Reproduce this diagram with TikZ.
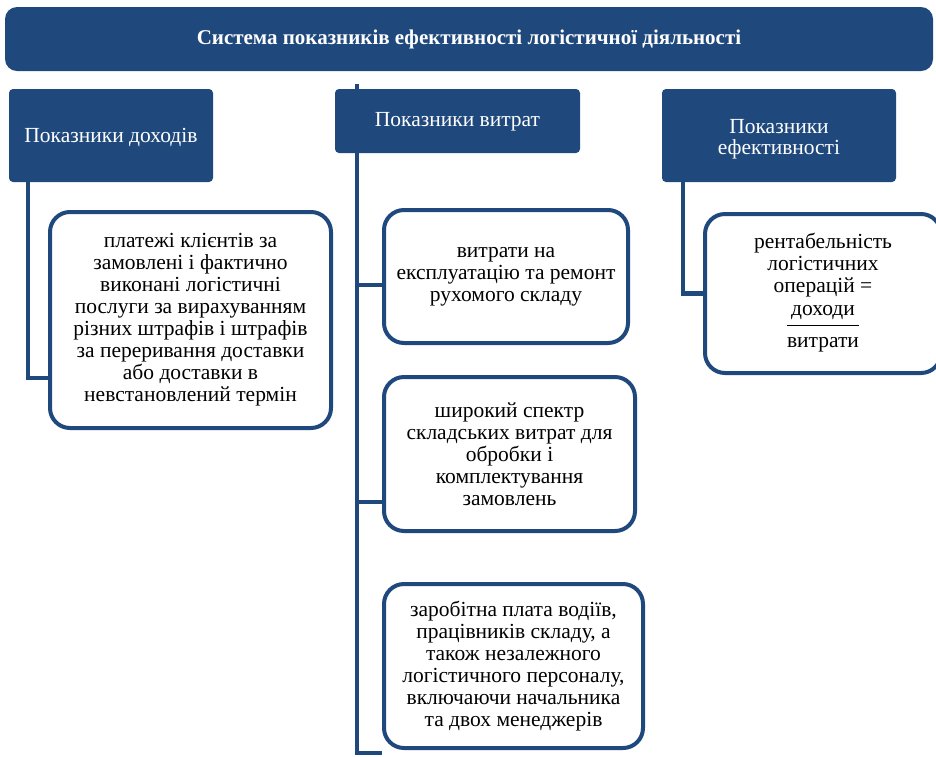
\documentclass[tikz,border=0pt]{standalone}
\usepackage{fontspec}
\setmainfont{Liberation Serif}
\usetikzlibrary{backgrounds,calc}
\definecolor{navy}{RGB}{31,73,125}
\tikzset{
  titlebox/.style={fill=navy,rounded corners=12pt,minimum width=928pt,minimum height=64pt,text=white,font=\fontsize{21}{24}\selectfont\bfseries,inner sep=0pt},
  headbox/.style={fill=navy,rounded corners=4pt,inner sep=0pt},
  headtext/.style={text=white,font=\fontsize{21.5}{21}\selectfont,align=center,inner sep=0pt},
  itembox/.style={draw=navy,line width=4pt,fill=white,rounded corners=20pt,font=\fontsize{21.5}{22}\selectfont,align=center,inner sep=0pt},
  conn/.style={draw=navy,line width=4.5pt}
}
\begin{document}
\begin{tikzpicture}[x=1pt,y=-1pt]
\useasboundingbox (0,0) rectangle (936,756);
\node[titlebox] (title) at (469,39) {Система показників ефективності логістичної діяльності};
\node[headbox,minimum width=204pt,minimum height=93pt] (h1) at (111,135.5) {};
\node[headtext] (h1t) at ([yshift=-2pt]h1.center) {Показники доходів};
\node[headbox,minimum width=245pt,minimum height=64pt] (h2) at (457.5,121) {};
\node[headtext] (h2t) at ([yshift=-1pt]h2.center) {Показники витрат};
\node[headbox,minimum width=234pt,minimum height=93pt] (h3) at (779,135.5) {};
\node[headtext] (h3t) at ([yshift=-3.5pt]h3.center) {Показники\\ефективності};
\node[itembox,minimum width=281pt,minimum height=216pt] (b1) at (190.5,320) {платежі клієнтів за\\замовлені і фактично\\виконані логістичні\\послуги за вирахуванням\\різних штрафів і штрафів\\за переривання доставки\\або доставки в\\невстановлений термін};
\node[itembox,minimum width=244pt,minimum height=133pt] (ba) at (506,276.5) {витрати на\\експлуатацію та ремонт\\рухомого складу};
\node[itembox,minimum width=251pt,minimum height=154pt] (bb) at (509.5,454) {широкий спектр\\складських витрат для\\обробки і\\комплектування\\замовлень};
\node[itembox,minimum width=259pt,minimum height=164pt] (bc) at (513.5,666) {заробітна плата водіїв,\\працівників складу, а\\також незалежного\\логістичного персоналу,\\включаючи начальника\\та двох менеджерів};
\node[itembox,minimum width=236pt,minimum height=159pt] (br) at (823,293.5) {рентабельність\\логістичних\\операцій =\\[2pt]\setlength{\tabcolsep}{0pt}\begin{tabular}{c}доходи\\[3pt]\hline\rule{0pt}{22pt}витрати\end{tabular}};
\begin{scope}[on background layer]
\coordinate (mtop) at (357,84);
\coordinate (mbot) at (357,753);
\draw[conn] ([xshift=19pt]h1.south west) |- ([yshift=-58pt]b1.west);
\draw[conn] (mtop) -- (mbot) -- (bc.west |- mbot);
\draw[conn] ([yshift=-8.5pt]ba.west) -- ([yshift=-8.5pt]ba.west -| mtop);
\draw[conn] ([yshift=-48pt]bb.west) -- ([yshift=-48pt]bb.west -| mtop);
\draw[conn] ([xshift=21pt]h3.south west) |- (br.west);
\end{scope}
\end{tikzpicture}
\end{document}
